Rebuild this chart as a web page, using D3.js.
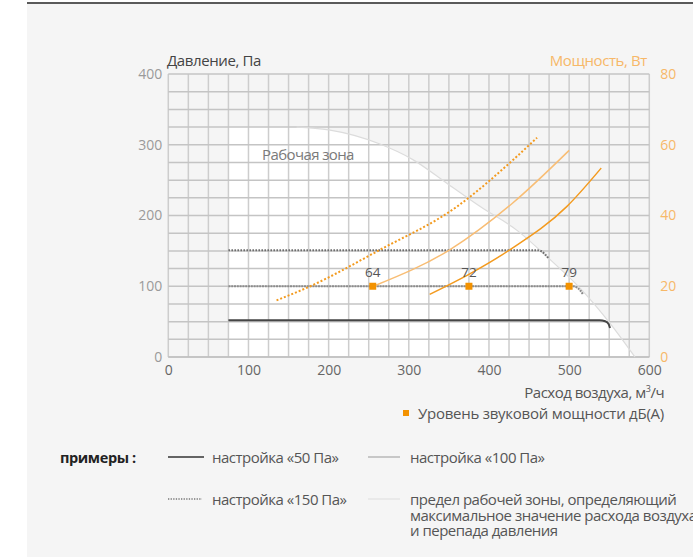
<!DOCTYPE html>
<html><head><meta charset="utf-8">
<script src="https://cdn.jsdelivr.net/npm/d3@7"></script>
<style>
html,body{margin:0;padding:0;background:#fff;}
svg{display:block;font-family:"Open Sans",sans-serif;}
</style></head>
<body>
<svg id="c" width="693" height="557"></svg>
<script>
// ---- data ----
const flowTicks = [0,100,200,300,400,500,600];
const pressureTicks = [0,100,200,300,400];
const powerTicks = [0,20,40,60,80];
// working zone boundary (flow m3/h, pressure Pa)
const zoneFlow = [75,160,200,264,305,347,390,435,475,513,552,582];
const zonePres = [325,325,321,301,279,246,212,179,139,98,46,0];
// pressure settings
const set50Flow = [75,538,545,549,551];
const set50Pres = [52,52,50.5,47,41];
const set100Flow = [75,505,510,514,517];
const set100Pres = [100,100,98,94,89];
const set150Flow = [75,460,466,470,474];
const set150Pres = [151,151,149,145,140];
// power curves (flow, W)
const pow150Flow = [135,177,264,360,430,460];
const pow150W = [16,20,30.3,42.5,55.7,62];
const pow100Flow = [258,351,430,500];
const pow100W = [20.2,30.3,43.6,58.4];
const pow50Flow = [326,376,426,497,540];
const pow50W = [17.7,23.5,30.3,42.5,53.4];
// sound power markers
const markerFlow = [255,375,500];
const markerPres = [100,100,100];
const markerDb = [64,72,79];
// legend texts
const legendTitle = "примеры :";
const legendLabels = ["настройка «50 Па»","настройка «100 Па»","настройка «150 Па»"];
const zoneNote = ["предел рабочей зоны, определяющий","максимальное значение расхода воздуха","и перепада давления"];

// ---- chart ----
const svg = d3.select("#c");
svg.append("rect").attr("x",27).attr("y",3).attr("width",666).attr("height",554).attr("fill","#f5f5f5");
svg.append("line").attr("x1",27).attr("x2",693).attr("y1",3).attr("y2",3).attr("stroke","#5a5a5a").attr("stroke-width",2);

const x = d3.scaleLinear().domain([0,600]).range([168.3,649.3]);
const y = d3.scaleLinear().domain([0,400]).range([357,74]);
const yW = d3.scaleLinear().domain([0,80]).range([357,74]);

const zip = (a,b)=>a.map((v,i)=>[v,b[i]]);

// working zone fill
const area = d3.area().x(d=>x(d[0])).y0(y(0)).y1(d=>y(d[1])).curve(d3.curveMonotoneX);
svg.append("path").datum(zip(zoneFlow,zonePres)).attr("d",area).attr("fill","#ffffff");

// grid
const g = svg.append("g");
d3.range(0,601,25).forEach(v=>{
  g.append("line").attr("x1",x(v)).attr("x2",x(v)).attr("y1",y(0)).attr("y2",y(400))
   .attr("stroke","#cdcdcd").attr("stroke-width",1.5);
});
d3.range(0,401,25).forEach(v=>{
  g.append("line").attr("x1",x(0)).attr("x2",x(600)).attr("y1",y(v)).attr("y2",y(v))
   .attr("stroke","#c4c4c4").attr("stroke-width",1.5);
});
svg.append("line").attr("x1",x(0)).attr("x2",x(600)).attr("y1",y(0)).attr("y2",y(0)).attr("stroke","#c0c0c0").attr("stroke-width",1.5);

// zone boundary line
const lineZ = d3.line().x(d=>x(d[0])).y(d=>y(d[1])).curve(d3.curveMonotoneX);
svg.append("path").datum(zip(zoneFlow,zonePres).slice(1)).attr("d",lineZ)
  .attr("fill","none").attr("stroke","#dcdcdc").attr("stroke-width",1.2);

// pressure settings
const lineP = d3.line().x(d=>x(d[0])).y(d=>y(d[1])).curve(d3.curveMonotoneX);
svg.append("path").datum(zip(set150Flow,set150Pres)).attr("d",lineP)
  .attr("fill","none").attr("stroke","#6e6e6e").attr("stroke-width",2).attr("stroke-dasharray","1.6,1.4");
svg.append("path").datum(zip(set100Flow,set100Pres)).attr("d",lineP)
  .attr("fill","none").attr("stroke","#8c8c8c").attr("stroke-width",2).attr("stroke-dasharray","2,0.8");
svg.append("path").datum(zip(set50Flow,set50Pres)).attr("d",lineP)
  .attr("fill","none").attr("stroke","#464646").attr("stroke-width",2);

// power curves
const lineW = d3.line().x(d=>x(d[0])).y(d=>yW(d[1])).curve(d3.curveMonotoneX);
svg.append("path").datum(zip(pow150Flow,pow150W)).attr("d",lineW)
  .attr("fill","none").attr("stroke","#f39a1e").attr("stroke-width",2).attr("stroke-dasharray","2,2");
svg.append("path").datum(zip(pow100Flow,pow100W)).attr("d",lineW)
  .attr("fill","none").attr("stroke","#f8bd74").attr("stroke-width",1.5);
svg.append("path").datum(zip(pow50Flow,pow50W)).attr("d",lineW)
  .attr("fill","none").attr("stroke","#f39a1e").attr("stroke-width",1.5);

// markers
markerFlow.forEach((f,i)=>{
  svg.append("rect").attr("x",x(f)-3.5).attr("y",y(markerPres[i])-3.5).attr("width",7).attr("height",7).attr("fill","#f39200");
  svg.append("text").attr("x",x(f)).attr("y",y(markerPres[i])-9).attr("text-anchor","middle")
    .attr("font-size",13.5).attr("fill","#555").text(markerDb[i]);
});

// axes labels
const axL = d3.axisLeft(y).tickValues(pressureTicks).tickSize(0).tickPadding(6);
const gl = svg.append("g").attr("transform",`translate(${x(0)},0)`).call(axL);
const axR = d3.axisRight(yW).tickValues(powerTicks).tickSize(0).tickPadding(11);
const gr = svg.append("g").attr("transform",`translate(${x(600)},0)`).call(axR);
const axB = d3.axisBottom(x).tickValues(flowTicks).tickSize(0).tickPadding(8);
const gb = svg.append("g").attr("transform",`translate(0,${y(0)})`).call(axB);
[gl,gr,gb].forEach(a=>{a.select(".domain").remove(); a.selectAll("text").attr("font-size",14).attr("font-family","Open Sans");});
gl.selectAll("text").attr("fill","#9a9a9a");
gb.selectAll("text").attr("fill","#666");
gr.selectAll("text").attr("fill","#f7b868");

svg.append("text").attr("x",167).attr("y",66).attr("font-size",15).attr("fill","#444").attr("letter-spacing",-0.4).text("Давление, Па");
svg.append("text").attr("x",647).attr("y",66).attr("text-anchor","end").attr("font-size",15).attr("fill","#f7b868").attr("letter-spacing",-0.4).text("Мощность, Вт");
svg.append("text").attr("x",262).attr("y",160).attr("font-size",15).attr("fill","#7a7a7a").attr("letter-spacing",-0.6).text("Рабочая зона");

const xt = svg.append("text").attr("x",664).attr("y",398).attr("text-anchor","end").attr("font-size",15).attr("fill","#555").attr("letter-spacing",-0.5);
xt.append("tspan").text("Расход воздуха, м");
xt.append("tspan").attr("font-size",9).attr("dy",-6).text("3");
xt.append("tspan").attr("dy",6).text("/ч");

svg.append("rect").attr("x",403).attr("y",410).attr("width",6).attr("height",6).attr("fill","#f39200");
svg.append("text").attr("x",664).attr("y",419).attr("text-anchor","end").attr("font-size",15).attr("fill","#555").attr("letter-spacing",-0.25).text("Уровень звуковой мощности дБ(А)");

// legend
svg.append("text").attr("x",60).attr("y",463).attr("font-size",14.5).attr("font-weight","bold").attr("fill","#222").attr("letter-spacing",-0.4).text(legendTitle);
const leg = [
  {x1:168,x2:204,y:457,stroke:"#333",w:1.5,dash:null,tx:212,lines:[legendLabels[0]]},
  {x1:368,x2:400,y:457,stroke:"#a8a8a8",w:1.2,dash:null,tx:410,lines:[legendLabels[1]]},
  {x1:168,x2:202,y:499,stroke:"#777",w:1.3,dash:"1.3,1.3",tx:212,lines:[legendLabels[2]]},
  {x1:368,x2:400,y:499,stroke:"#e2e2e2",w:1.2,dash:null,tx:410,lines:zoneNote}
];
leg.forEach(l=>{
  svg.append("line").attr("x1",l.x1).attr("x2",l.x2).attr("y1",l.y).attr("y2",l.y)
    .attr("stroke",l.stroke).attr("stroke-width",l.w).attr("stroke-dasharray",l.dash);
  l.lines.forEach((s,i)=>{
    svg.append("text").attr("x",l.tx).attr("y",l.y+6+i*15.5).attr("font-size",15).attr("fill","#555")
      .attr("letter-spacing",-0.5).text(s);
  });
});
</script>
</body></html>
